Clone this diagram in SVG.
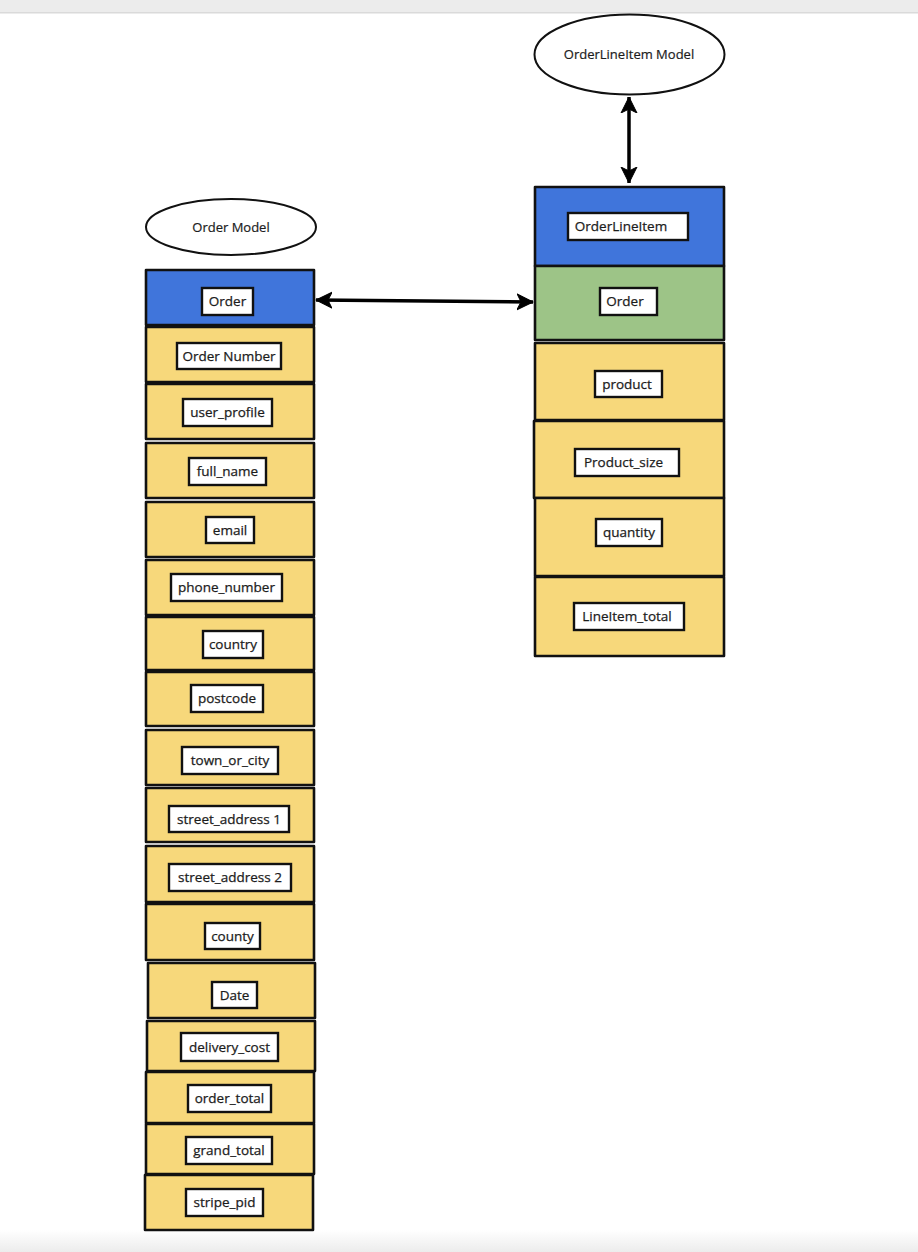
<svg xmlns="http://www.w3.org/2000/svg" width="918" height="1252" viewBox="0 0 918 1252">
<style>
.row{stroke:#111;stroke-width:2.6;stroke-linejoin:round}
.y{fill:#F7D87B}
.b{fill:#4075DB}
.g{fill:#9DC487}
.lb{fill:#fff;stroke:#111;stroke-width:2.4}
.t{font-family:"Open Sans","Liberation Sans",sans-serif;font-size:13.5px;fill:#1c1c1c;stroke:#1c1c1c;stroke-width:0.25;text-anchor:middle}
.et{font-family:"Open Sans","Liberation Sans",sans-serif;font-size:13px;fill:#1c1c1c;stroke:#1c1c1c;stroke-width:0.2;text-anchor:middle}
.el{fill:#fff;stroke:#111;stroke-width:2}
.con{stroke:#000;stroke-width:3.5;fill:none}
</style>
<defs>
<marker id="ah" markerUnits="userSpaceOnUse" markerWidth="18" markerHeight="18" refX="16" refY="8" orient="auto-start-reverse" viewBox="0 0 18 16">
<path d="M0,0 L16,8 L0,16 L4,8 z" fill="#000" stroke="#000" stroke-width="1" stroke-linejoin="round"/>
</marker>
<linearGradient id="bot" x1="0" y1="0" x2="0" y2="1">
<stop offset="0" stop-color="#fff"/>
<stop offset="1" stop-color="#ececec"/>
</linearGradient>
</defs>
<rect x="0" y="0" width="918" height="1252" fill="#fff"/>
<rect x="0" y="0" width="918" height="12" fill="#ececec"/>
<rect x="0" y="12" width="918" height="1.5" fill="#dadada"/>
<rect x="0" y="1230" width="918" height="22" fill="url(#bot)"/>

<g id="order-model">
<ellipse class="el" cx="231" cy="227" rx="85" ry="28"/>
<text class="et" x="231" y="231.5">Order Model</text>
</g>
<g id="orderlineitem-model">
<ellipse class="el" cx="629.5" cy="54.5" rx="95" ry="40"/>
<text class="et" x="629" y="59">OrderLineItem Model</text>
</g>

<g id="left-order"><rect class="row b" x="146" y="270" width="168" height="55"/><rect class="lb" x="202" y="288" width="51" height="27"/><text class="t" x="227.5" y="306">Order</text></g>
<g id="left-order-number"><rect class="row y" x="146" y="327" width="168" height="55"/><rect class="lb" x="177" y="343" width="104" height="26"/><text class="t" x="229" y="360.5">Order Number</text></g>
<g id="left-user-profile"><rect class="row y" x="146" y="384" width="168" height="55"/><rect class="lb" x="183" y="399" width="89" height="27"/><text class="t" x="227.5" y="417">user_profile</text></g>
<g id="left-full-name"><rect class="row y" x="146" y="443" width="168" height="55"/><rect class="lb" x="189" y="458" width="77" height="27"/><text class="t" x="227.5" y="476">full_name</text></g>
<g id="left-email"><rect class="row y" x="146" y="502" width="168" height="55"/><rect class="lb" x="206" y="517" width="48" height="26"/><text class="t" x="230" y="534.5">email</text></g>
<g id="left-phone-number"><rect class="row y" x="146" y="560" width="168" height="55"/><rect class="lb" x="171" y="574" width="111" height="27"/><text class="t" x="226.5" y="592">phone_number</text></g>
<g id="left-country"><rect class="row y" x="146" y="617" width="168" height="53"/><rect class="lb" x="203" y="631" width="60" height="27"/><text class="t" x="233" y="649">country</text></g>
<g id="left-postcode"><rect class="row y" x="146" y="672" width="168" height="54"/><rect class="lb" x="191" y="685" width="72" height="27"/><text class="t" x="227" y="703">postcode</text></g>
<g id="left-town-or-city"><rect class="row y" x="146" y="730" width="168" height="55"/><rect class="lb" x="182" y="747" width="96" height="27"/><text class="t" x="230" y="765">town_or_city</text></g>
<g id="left-street-address-1"><rect class="row y" x="146" y="788" width="168" height="54"/><rect class="lb" x="169" y="806" width="120" height="26"/><text class="t" x="229" y="823.5">street_address 1</text></g>
<g id="left-street-address-2"><rect class="row y" x="146" y="846" width="168" height="56"/><rect class="lb" x="169" y="864" width="122" height="27"/><text class="t" x="230" y="882">street_address 2</text></g>
<g id="left-county"><rect class="row y" x="146" y="904" width="168" height="56"/><rect class="lb" x="205" y="923" width="55" height="26"/><text class="t" x="232.5" y="940.5">county</text></g>
<g id="left-date"><rect class="row y" x="148" y="963" width="167" height="55"/><rect class="lb" x="212" y="982" width="45" height="26"/><text class="t" x="234.5" y="999.5">Date</text></g>
<g id="left-delivery-cost"><rect class="row y" x="147" y="1021" width="168" height="50"/><rect class="lb" x="181" y="1033" width="97" height="28"/><text class="t" x="229.5" y="1051.5">delivery_cost</text></g>
<g id="left-order-total"><rect class="row y" x="146" y="1072" width="168" height="51"/><rect class="lb" x="188" y="1085" width="83" height="27"/><text class="t" x="229.5" y="1103">order_total</text></g>
<g id="left-grand-total"><rect class="row y" x="146" y="1124" width="168" height="50"/><rect class="lb" x="186" y="1137" width="86" height="27"/><text class="t" x="229" y="1155">grand_total</text></g>
<g id="left-stripe-pid"><rect class="row y" x="145" y="1175" width="168" height="55"/><rect class="lb" x="186" y="1189" width="77" height="27"/><text class="t" x="224.5" y="1207">stripe_pid</text></g>

<g id="right-orderlineitem"><rect class="row b" x="535" y="187" width="189" height="79"/><rect class="lb" x="568" y="213" width="120" height="27"/><text class="t" x="621" y="231">OrderLineItem</text></g>
<g id="right-order"><rect class="row g" x="535" y="266" width="189" height="74"/><rect class="lb" x="600" y="288" width="57" height="27"/><text class="t" x="625" y="306">Order</text></g>
<g id="right-product"><rect class="row y" x="535" y="343" width="189" height="77"/><rect class="lb" x="595" y="371" width="67" height="26"/><text class="t" x="627" y="388.5">product</text></g>
<g id="right-product-size"><rect class="row y" x="534" y="421" width="190" height="77"/><rect class="lb" x="575" y="449" width="104" height="27"/><text class="t" x="623.5" y="467">Product_size</text></g>
<g id="right-quantity"><rect class="row y" x="535" y="498" width="189" height="78"/><rect class="lb" x="596" y="519" width="66" height="27"/><text class="t" x="629" y="537">quantity</text></g>
<g id="right-lineitem-total"><rect class="row y" x="535" y="577" width="189" height="79"/><rect class="lb" x="574" y="603" width="110" height="27"/><text class="t" x="627" y="621">LineItem_total</text></g>

<g id="connectors">
<line class="con" x1="316" y1="300" x2="533" y2="302" marker-start="url(#ah)" marker-end="url(#ah)"/>
<line class="con" x1="629" y1="97" x2="629" y2="183" marker-start="url(#ah)" marker-end="url(#ah)"/>
</g>
</svg>
